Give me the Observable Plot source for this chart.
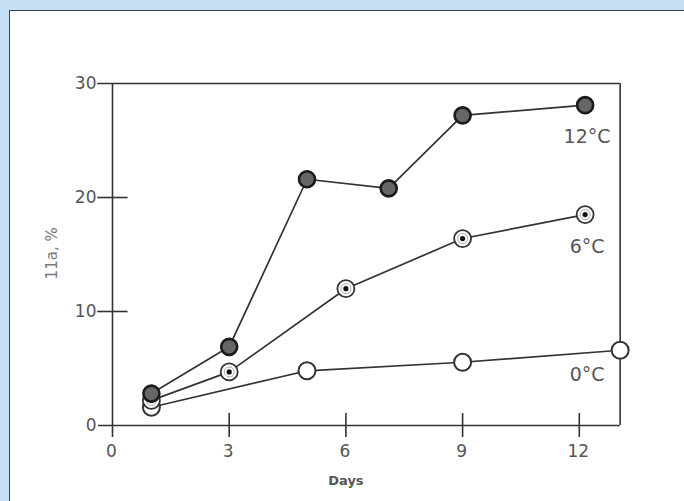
<!DOCTYPE html>
<html>
<head>
<meta charset="utf-8">
<script src="https://cdn.jsdelivr.net/npm/d3@7"></script>
<script src="https://cdn.jsdelivr.net/npm/@observablehq/plot@0.6"></script>
<style>
  html, body { margin: 0; padding: 0; width: 684px; height: 501px; overflow: hidden; background: #c4dff3; }
  #panel { position: absolute; left: 9px; top: 10px; width: 675px; height: 491px; background: #fff;
           border-left: 1.5px solid #3a444e; border-top: 1.5px solid #3a444e; }
  #chart { position: absolute; left: 0; top: 0; }
</style>
</head>
<body>
<div id="panel"></div>
<div id="chart"></div>
<script>
// Data
const days12 = [1, 3, 5, 7.1, 9, 12.15];
const vals12 = [2.8, 6.9, 21.6, 20.8, 27.2, 28.1];
const days6 = [1, 3, 6, 9, 12.15];
const vals6 = [2.2, 4.7, 12.0, 16.4, 18.5];
const days0 = [1, 5, 9, 13.05];
const vals0 = [1.6, 4.8, 5.55, 6.6];

const xTicks = [0, 3, 6, 9, 12];
const yTicks = [0, 10, 20, 30];
const seriesNames = ["12°C", "6°C", "0°C"];
const labelDays = [12.2, 12.2, 12.2];
const labelVals = [25.3, 15.7, 4.4];
const xLabel = "Days";
const yLabel = "11a, %";

const s12 = days12.map((d, i) => ({day: d, v: vals12[i]}));
const s6 = days6.map((d, i) => ({day: d, v: vals6[i]}));
const s0 = days0.map((d, i) => ({day: d, v: vals0[i]}));
const labels = seriesNames.map((n, i) => ({name: n, day: labelDays[i], v: labelVals[i]}));

const xMax = 13.05;
const ink = "#333";
const font = "DejaVu Sans, sans-serif";

const chart = Plot.plot({
  width: 684,
  height: 501,
  style: {background: "transparent", fontFamily: font},
  x: {domain: [0, 12], range: [112, 578.8], axis: null},
  y: {domain: [0, 30], range: [425, 83], axis: null},
  marks: [
    // frame and axes
    Plot.ruleY([30], {x1: -0.38, x2: xMax, stroke: ink, strokeWidth: 1.6}),
    Plot.ruleX([xMax], {y1: 0, y2: 30, stroke: ink, strokeWidth: 1.6}),
    Plot.ruleX([0], {y1: -1.05, y2: 30, stroke: ink, strokeWidth: 1.6}),
    Plot.ruleY([0], {x1: -0.36, x2: xMax, stroke: ink, strokeWidth: 1.6}),
    // ticks
    Plot.ruleY([10, 20], {x1: -0.38, x2: 0.4, stroke: ink, strokeWidth: 1.6}),
    Plot.ruleX([3, 6, 9, 12], {y1: -1.05, y2: 1.05, stroke: ink, strokeWidth: 1.6}),
    // tick labels
    Plot.text(yTicks, {x: 0, y: d => d, text: d => String(d), dx: -16, textAnchor: "end",
      fontSize: 17, fill: "#555"}),
    Plot.text(xTicks, {x: d => d, y: 0, text: d => String(d), dx: -1, dy: 26,
      fontSize: 17, fill: "#555"}),
    // axis titles
    Plot.text([xLabel], {x: 6, y: 0, dy: 55, text: d => d, fontSize: 13, fontWeight: "bold", fill: "#555"}),
    Plot.text([yLabel], {x: -1.54, y: 15.1, text: d => d, rotate: -90, fontSize: 15, fill: "#777"}),
    // lines
    Plot.line(s0, {x: "day", y: "v", stroke: ink, strokeWidth: 1.7}),
    Plot.line(s6, {x: "day", y: "v", stroke: ink, strokeWidth: 1.7}),
    Plot.line(s12, {x: "day", y: "v", stroke: ink, strokeWidth: 1.7}),
    // markers
    Plot.dot(s0, {x: "day", y: "v", r: 8.5, fill: "white", stroke: "#333", strokeWidth: 2}),
    Plot.dot(s6, {x: "day", y: "v", r: 8.5, fill: "white", stroke: "#333", strokeWidth: 1.8}),
    Plot.dot(s6, {x: "day", y: "v", r: 5, fill: "none", stroke: "#aaa", strokeWidth: 1}),
    Plot.dot(s6, {x: "day", y: "v", r: 2.6, fill: "#111"}),
    Plot.dot(s12, {x: "day", y: "v", r: 8, fill: "#666", stroke: "#1a1a1a", strokeWidth: 2.6}),
    // series labels
    Plot.text(labels, {x: "day", y: "v", text: "name", fontSize: 19, fill: "#555"})
  ]
});
document.getElementById("chart").appendChild(chart);
</script>
</body>
</html>
